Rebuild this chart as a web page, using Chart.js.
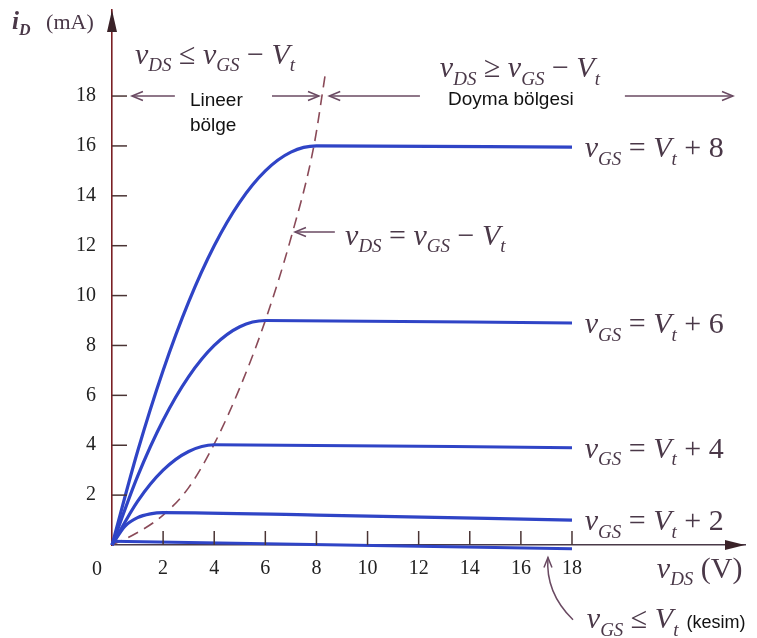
<!DOCTYPE html>
<html>
<head>
<meta charset="utf-8">
<title>MOSFET çıkış karakteristiği</title>
<script src="https://cdn.jsdelivr.net/npm/chart.js"></script>
<style>
  html, body { margin: 0; padding: 0; background: #fff; }
  #wrap { position: relative; width: 757px; height: 638px; }
</style>
</head>
<body>
<div id="wrap"><canvas id="idVds"></canvas></div>
<script>
// ====== EKSEN İŞARETLERİ ======
const xTicks = [2, 4, 6, 8, 10, 12, 14, 16, 18];
const yTicks = [2, 4, 6, 8, 10, 12, 14, 16, 18];

// ====== EĞRİLER (vDS [V], iD [mA]) ======
// vGS = Vt + 8
const vds8 = [0, 1, 2, 3, 4, 5, 6, 7, 8, 18];
const id8  = [0, 3.75, 7, 9.75, 12, 13.75, 15, 15.75, 16, 15.95];
// vGS = Vt + 6
const vds6 = [0, 1, 2, 3, 4, 5, 6, 18];
const id6  = [0, 2.75, 5, 6.75, 8, 8.75, 9, 8.9];
// vGS = Vt + 4
const vds4 = [0, 1, 2, 3, 4, 18];
const id4  = [0, 1.75, 3, 3.75, 4.02, 3.9];
// vGS = Vt + 2
const vds2 = [0, 0.5, 1, 1.5, 2, 8, 18];
const id2  = [0, 0.75, 1.1, 1.25, 1.3, 1.2, 1.0];
// vGS <= Vt (kesim)
const vdsOff = [0, 18];
const idOff  = [0.15, -0.15];
// sınır eğrisi vDS = vGS - Vt
const vdsSat = [0, 1, 2, 3, 4, 5, 6, 7, 7.9, 8.35];
const idSat  = [0, 0.5, 1.2, 2.3, 4.05, 6.3, 9, 12.3, 16, 18.9];

const curveLabels = ["8", "6", "4", "2"];

// ====== RENKLER / YAZI TİPLERİ ======
const BLUE = "#2f44c6";
const DASH = "#8a4a58";
const INK = "#4a3a48";
const SERIF = '"Liberation Serif", "Times New Roman", serif';
const SANS = '"Liberation Sans", Arial, sans-serif';

function pts(xs, ys) {
  return xs.map((x, i) => ({ x: x, y: ys[i] }));
}

function curve(xs, ys) {
  return {
    data: pts(xs, ys),
    borderColor: BLUE,
    borderWidth: 3.2,
    cubicInterpolationMode: "monotone",
    pointRadius: 0,
    fill: false,
    clip: false,
  };
}

// alt indisli matematik yazısı: [metin, tür] parçaları
function drawMath(ctx, parts, x, y, size) {
  let cx = x;
  const sub = Math.round(size * 0.64);
  parts.forEach(([txt, kind]) => {
    let dy = 0;
    if (kind === "i") ctx.font = `italic ${size}px ${SERIF}`;
    else if (kind === "bi") ctx.font = `italic bold ${size}px ${SERIF}`;
    else if (kind === "s") { ctx.font = `italic ${sub}px ${SERIF}`; dy = size * 0.25; }
    else if (kind === "bs") { ctx.font = `italic bold ${sub}px ${SERIF}`; dy = size * 0.25; }
    else ctx.font = `${size}px ${SERIF}`;
    ctx.fillText(txt, cx, y + dy);
    cx += ctx.measureText(txt).width;
  });
  return cx;
}

// açık uçlu ok başı
function arrowHead(ctx, x, y, dir, len, half) {
  ctx.beginPath();
  ctx.moveTo(x - dir * len, y - half);
  ctx.lineTo(x, y);
  ctx.lineTo(x - dir * len, y + half);
  ctx.stroke();
}

function hArrow(ctx, x1, x2, y) {
  ctx.beginPath();
  ctx.moveTo(x1, y);
  ctx.lineTo(x2, y);
  ctx.stroke();
  arrowHead(ctx, x2, y, Math.sign(x2 - x1), 11, 4.5);
}

// eksen etiketlerinin kenar boşluklarını sıfırla, çizim alanı sabit kalsın
function fixBox(width, height) {
  return (s) => {
    if (width !== null) s.width = width;
    if (height !== null) s.height = height;
    s.paddingTop = 0;
    s.paddingBottom = 0;
    s.paddingLeft = 0;
    s.paddingRight = 0;
  };
}

const annotations = {
  id: "annotations",
  afterDatasetsDraw(chart) {
    const ctx = chart.ctx;
    const xs = chart.scales.x;
    const ys = chart.scales.y;
    const X = (v) => xs.getPixelForValue(v);
    const Y = (v) => ys.getPixelForValue(v);
    const area = chart.chartArea;

    ctx.save();
    ctx.textBaseline = "alphabetic";

    // içe bakan eksen çentikleri
    ctx.strokeStyle = "#4a3434";
    ctx.lineWidth = 1.5;
    yTicks.forEach((v) => {
      ctx.beginPath();
      ctx.moveTo(area.left, Y(v));
      ctx.lineTo(area.left + 15, Y(v));
      ctx.stroke();
    });
    xTicks.forEach((v) => {
      ctx.beginPath();
      ctx.moveTo(X(v), area.bottom);
      ctx.lineTo(X(v), area.bottom - 14);
      ctx.stroke();
    });

    // eksen okları
    ctx.fillStyle = "#3a2228";
    ctx.beginPath();
    ctx.moveTo(area.left, area.top);
    ctx.lineTo(area.left - 5, area.top + 22);
    ctx.lineTo(area.left + 5, area.top + 22);
    ctx.closePath();
    ctx.fill();
    ctx.beginPath();
    ctx.moveTo(area.right, area.bottom);
    ctx.lineTo(area.right - 20, area.bottom - 5);
    ctx.lineTo(area.right - 20, area.bottom + 5);
    ctx.closePath();
    ctx.fill();

    // başlangıç noktası "0"
    ctx.fillStyle = "#222";
    ctx.font = `20px ${SERIF}`;
    ctx.textAlign = "center";
    ctx.fillText("0", X(-0.59), Y(-1.2));
    ctx.textAlign = "left";

    // bölge okları (iD = 18 hizası)
    ctx.strokeStyle = "#6a4a62";
    ctx.lineWidth = 1.5;
    hArrow(ctx, X(2.46), X(0.78), Y(18));
    hArrow(ctx, X(6.26), X(8.1), Y(18));
    hArrow(ctx, X(12.05), X(8.5), Y(18));
    hArrow(ctx, X(20.07), X(24.3), Y(18));
    hArrow(ctx, X(8.72), X(7.16), Y(12.55));

    // kesim oku (eğri)
    ctx.beginPath();
    ctx.moveTo(X(18.04), Y(-3.0));
    ctx.quadraticCurveTo(X(16.95), Y(-1.9), X(17.06), Y(-0.5));
    ctx.stroke();
    ctx.beginPath();
    ctx.moveTo(X(17.06) - 4, Y(-0.5) + 10);
    ctx.lineTo(X(17.06), Y(-0.5));
    ctx.lineTo(X(17.06) + 4, Y(-0.5) + 10);
    ctx.stroke();

    // matematik etiketleri
    ctx.fillStyle = "#4a3848";
    const M = 30;
    drawMath(ctx, [["i", "bi"], ["D", "bs"]], X(-3.91), Y(20.69), 25);
    ctx.font = `22px ${SERIF}`;
    ctx.fillText("(mA)", X(-3.91) + 34, Y(20.69));

    drawMath(ctx, [["v", "i"], ["DS", "s"], [" ≤ ", "r"], ["v", "i"], ["GS", "s"], [" − ", "r"], ["V", "i"], ["t", "s"]], X(0.9), Y(19.29), M);
    drawMath(ctx, [["v", "i"], ["DS", "s"], [" ≥ ", "r"], ["v", "i"], ["GS", "s"], [" − ", "r"], ["V", "i"], ["t", "s"]], X(12.83), Y(18.76), M);
    drawMath(ctx, [["v", "i"], ["DS", "s"], [" = ", "r"], ["v", "i"], ["GS", "s"], [" − ", "r"], ["V", "i"], ["t", "s"]], X(9.12), Y(12.03), M);

    // eğri etiketleri, her eğrinin son değerine göre
    const ends = [id8, id6, id4, id2];
    ends.forEach((arr, i) => {
      const yEnd = Y(arr[arr.length - 1]) + 10;
      drawMath(ctx, [["v", "i"], ["GS", "s"], [" = ", "r"], ["V", "i"], ["t", "s"], [" + " + curveLabels[i], "r"]], X(18.5), yEnd, M);
    });

    drawMath(ctx, [["v", "i"], ["DS", "s"], [" (V)", "r"]], X(21.32), Y(-1.32), M);
    const endX = drawMath(ctx, [["v", "i"], ["GS", "s"], [" ≤ ", "r"], ["V", "i"], ["t", "s"]], X(18.58), Y(-3.33), M);
    ctx.fillStyle = "#111";
    ctx.font = `18px ${SANS}`;
    ctx.fillText("(kesim)", endX + 8, Y(-3.33));

    // bölge adları
    ctx.font = `19px ${SANS}`;
    ctx.fillText("Lineer", X(3.05), Y(17.6));
    ctx.fillText("bölge", X(3.05), Y(16.6));
    ctx.fillText("Doyma bölgesi", X(13.15), Y(17.64));

    ctx.restore();
  },
};

const ctx = document.getElementById("idVds").getContext("2d");

new Chart(ctx, {
  type: "line",
  data: {
    datasets: [
      curve(vdsOff, idOff),
      curve(vds2, id2),
      curve(vds4, id4),
      curve(vds6, id6),
      curve(vds8, id8),
      {
        data: pts(vdsSat, idSat),
        borderColor: DASH,
        borderWidth: 1.6,
        borderDash: [11, 7],
        cubicInterpolationMode: "monotone",
        pointRadius: 0,
        fill: false,
        clip: false,
      },
    ],
  },
  options: {
    responsive: true,
    maintainAspectRatio: false,
    animation: false,
    layout: { padding: { top: 10, right: 12, left: 0, bottom: 0 } },
    plugins: {
      legend: { display: false },
      tooltip: { enabled: false },
    },
    scales: {
      x: {
        type: "linear",
        min: 0,
        max: 24.77,
        afterFit: fixBox(null, 93),
        afterBuildTicks: (s) => { s.ticks = xTicks.map((v) => ({ value: v })); },
        grid: { display: false, drawTicks: false },
        border: { display: true, color: INK, width: 1.6 },
        ticks: {
          autoSkip: false,
          maxRotation: 0,
          padding: 12,
          color: "#222",
          font: { family: SERIF, size: 20 },
        },
      },
      y: {
        type: "linear",
        min: 0,
        max: 21.45,
        afterFit: fixBox(112, null),
        afterBuildTicks: (s) => { s.ticks = yTicks.map((v) => ({ value: v })); },
        grid: { display: false, drawTicks: false },
        border: { display: true, color: "#7a1f24", width: 1.6 },
        ticks: {
          autoSkip: false,
          padding: 16,
          color: "#222",
          font: { family: SERIF, size: 20 },
        },
      },
    },
  },
  plugins: [annotations],
});
</script>
</body>
</html>
